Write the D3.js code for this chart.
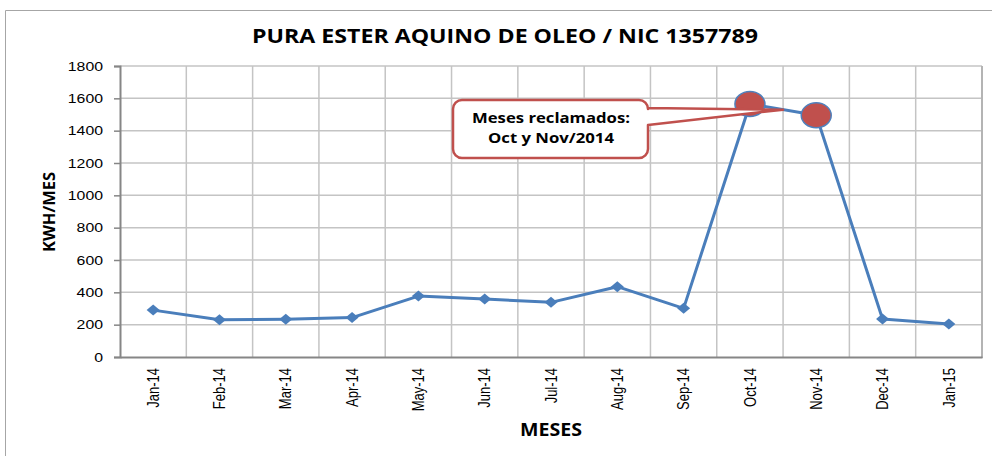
<!DOCTYPE html>
<html>
<head>
<meta charset="utf-8">
<script src="https://cdn.jsdelivr.net/npm/d3@7.9.0/dist/d3.min.js"></script>
<style>
  html, body { margin: 0; padding: 0; background: #fff; }
  svg { display: block; }
  text { font-family: "Open Sans", "Liberation Sans", sans-serif; fill: #000; }
</style>
</head>
<body>
<svg id="chart" width="992" height="456"></svg>
<script>
const months = ["Jan-14", "Feb-14", "Mar-14", "Apr-14", "May-14", "Jun-14", "Jul-14",
                "Aug-14", "Sep-14", "Oct-14", "Nov-14", "Dec-14", "Jan-15"];
const kwh = [290, 230, 234, 244, 377, 359, 338, 435, 301, 1565, 1495, 235, 204];
const yTicks = [0, 200, 400, 600, 800, 1000, 1200, 1400, 1600, 1800];
const claimed = ["Oct-14", "Nov-14"];
const title = "PURA ESTER AQUINO DE OLEO / NIC 1357789";
const calloutLines = ["Meses reclamados:", "Oct y Nov/2014"];

const svg = d3.select("#chart");
const plotL = 120, plotR = 982, plotT = 66, plotB = 357;

const x = d3.scaleBand().domain(months).range([plotL, plotR]).padding(0);
const y = d3.scaleLinear().domain([0, 1800]).range([plotB, plotT]);
const cx = d => x(d) + x.bandwidth() / 2;

// outer chart border
svg.append("path")
    .attr("d", "M5.5,456 L5.5,10.5 L992,10.5")
    .attr("fill", "none").attr("stroke", "#a6a6a6").attr("stroke-width", 1);

// title
svg.append("text")
    .attr("x", 252).attr("y", 43)
    .attr("textLength", 506).attr("lengthAdjust", "spacingAndGlyphs")
    .style("font-size", "19px").style("font-weight", "bold")
    .text(title);

// horizontal gridlines
svg.append("g").selectAll("line")
    .data(yTicks.filter(d => d > 0))
    .join("line")
    .attr("x1", plotL).attr("x2", plotR)
    .attr("y1", d => y(d)).attr("y2", d => y(d))
    .attr("stroke", "#c4c4c4").attr("stroke-width", 1.5);

// vertical gridlines at category boundaries
svg.append("g").selectAll("line")
    .data(months.slice(1))
    .join("line")
    .attr("x1", d => x(d)).attr("x2", d => x(d))
    .attr("y1", plotT).attr("y2", plotB)
    .attr("stroke", "#c4c4c4").attr("stroke-width", 1.5);

// right edge of plot area
svg.append("line")
    .attr("x1", plotR).attr("x2", plotR).attr("y1", plotT).attr("y2", plotB + 1)
    .attr("stroke", "#b4b4b4").attr("stroke-width", 2);

// y axis
const yAxis = svg.append("g")
    .attr("transform", `translate(${plotL},0)`)
    .call(d3.axisLeft(y).tickValues(yTicks).tickFormat(d3.format("d")).tickSize(6).tickPadding(11));
yAxis.select(".domain").attr("stroke", "#868686").attr("stroke-width", 2);
yAxis.selectAll(".tick line").attr("stroke", "#868686").attr("stroke-width", 1.5);
yAxis.selectAll(".tick text")
    .attr("textLength", d => String(d).length * 8.8)
    .attr("lengthAdjust", "spacingAndGlyphs")
    .style("font-size", "12.5px").style("font-family", "'Liberation Sans', sans-serif");

// x axis
const xAxis = svg.append("g")
    .attr("transform", `translate(0,${plotB})`)
    .call(d3.axisBottom(x).tickSize(0).tickPadding(0));
xAxis.select(".domain").attr("stroke", "#868686").attr("stroke-width", 2);
xAxis.selectAll(".tick text")
    .attr("transform", "rotate(-90) scale(1,1.25)")
    .attr("x", -11).attr("y", 0).attr("dy", "0.35em")
    .style("text-anchor", "end")
    .style("font-size", "13px").style("font-family", "'Liberation Sans', sans-serif");

// axis titles
svg.append("text")
    .attr("transform", "translate(55,212) rotate(-90)")
    .attr("text-anchor", "middle")
    .attr("textLength", 80).attr("lengthAdjust", "spacingAndGlyphs")
    .style("font-size", "16px").style("font-weight", "bold")
    .text("KWH/MES");
svg.append("text")
    .attr("x", 520).attr("y", 436)
    .attr("textLength", 62).attr("lengthAdjust", "spacingAndGlyphs")
    .style("font-size", "17px").style("font-weight", "bold")
    .text("MESES");

// series line + diamond markers
const points = months.map((m, i) => ({ m, v: kwh[i] }));
svg.append("path")
    .datum(points)
    .attr("fill", "none").attr("stroke", "#4a7ebb").attr("stroke-width", 3)
    .attr("stroke-linejoin", "round")
    .attr("d", d3.line().x(d => cx(d.m)).y(d => y(d.v)));

svg.append("g").selectAll("path")
    .data(points)
    .join("path")
    .attr("transform", d => `translate(${cx(d.m)},${y(d.v)})`)
    .attr("d", "M0,-5.5L6.5,0L0,5.5L-6.5,0Z")
    .attr("fill", "#4a7ebb");

// highlighted months
const hl = points.filter(d => claimed.includes(d.m));
svg.append("g").selectAll("ellipse")
    .data(hl)
    .join("ellipse")
    .attr("cx", d => cx(d.m)).attr("cy", d => y(d.v))
    .attr("rx", 15).attr("ry", 12.5)
    .attr("fill", "#c0504d").attr("stroke", "#4f81bd").attr("stroke-width", 1.5);

// callout box with pointer aimed between the two highlighted points
const tipX = (cx(hl[0].m) + cx(hl[1].m)) / 2;
const tipY = (y(hl[0].v) + y(hl[1].v)) / 2;
const bx0 = 453, bx1 = 648, by0 = 100, by1 = 158, r = 9;
const callout = d3.path();
callout.moveTo(bx0 + r, by0);
callout.lineTo(bx1 - r, by0);
callout.arcTo(bx1, by0, bx1, by0 + r, r);
callout.lineTo(bx1, 108);
callout.lineTo(tipX, tipY);
callout.lineTo(bx1, 125);
callout.lineTo(bx1, by1 - r);
callout.arcTo(bx1, by1, bx1 - r, by1, r);
callout.lineTo(bx0 + r, by1);
callout.arcTo(bx0, by1, bx0, by1 - r, r);
callout.lineTo(bx0, by0 + r);
callout.arcTo(bx0, by0, bx0 + r, by0, r);
callout.closePath();
svg.append("path")
    .attr("d", callout.toString())
    .attr("fill", "#fff").attr("stroke", "#c0504d").attr("stroke-width", 2.5)
    .attr("stroke-linejoin", "round");

svg.append("g").selectAll("text")
    .data(calloutLines)
    .join("text")
    .attr("x", (bx0 + bx1) / 2 + 0.5)
    .attr("y", (d, i) => 123 + i * 20)
    .attr("text-anchor", "middle")
    .attr("textLength", (d, i) => i === 0 ? 158 : 126)
    .attr("lengthAdjust", "spacingAndGlyphs")
    .style("font-size", "14.5px").style("font-weight", "bold")
    .text(d => d);
</script>
</body>
</html>
